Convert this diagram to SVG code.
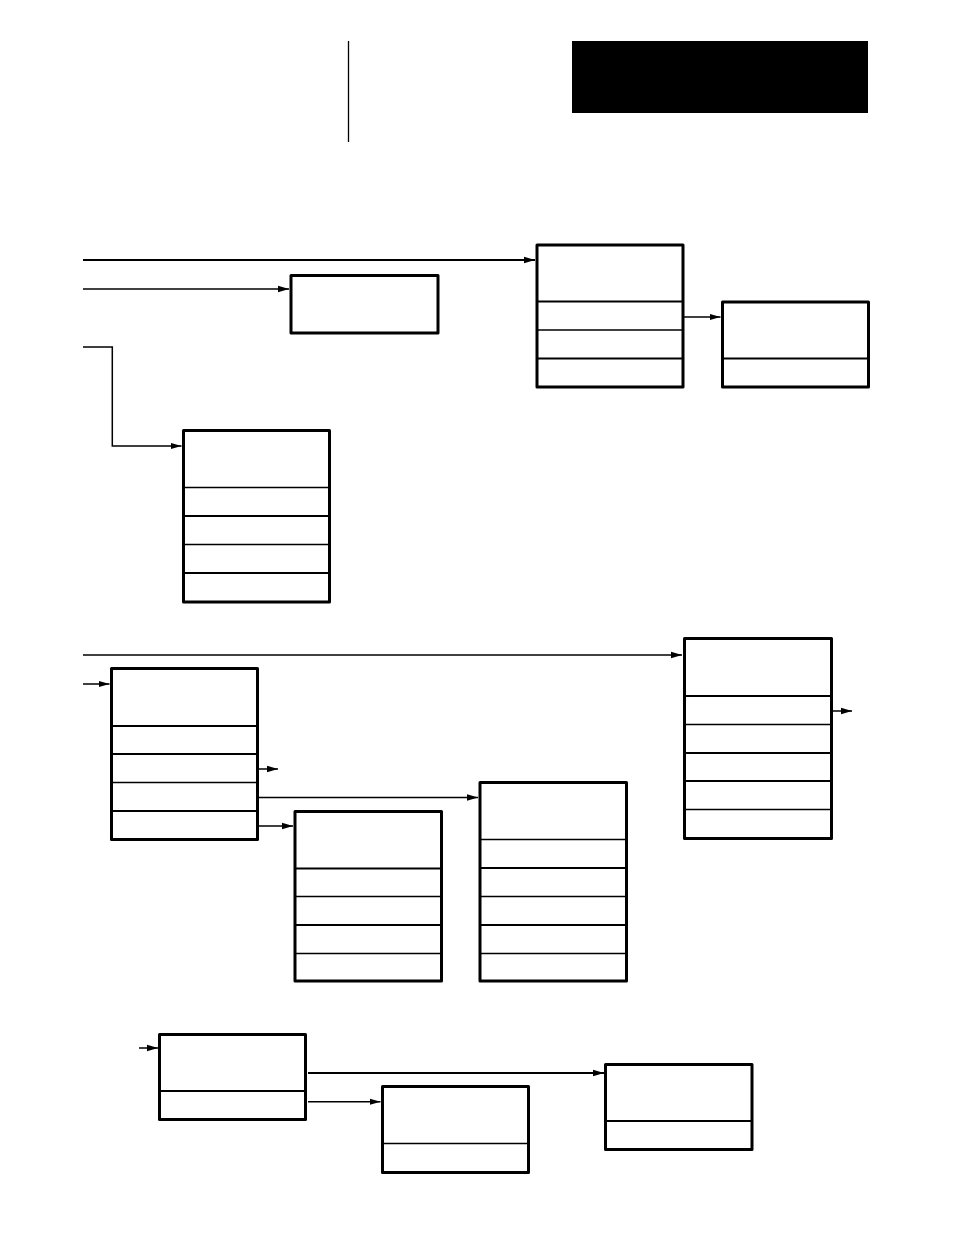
<svg xmlns="http://www.w3.org/2000/svg" width="954" height="1235" viewBox="0 0 954 1235">
<style>
.box{fill:#fff;stroke:#000;stroke-width:3;stroke-linejoin:round}
.dk{stroke:#000;stroke-width:2.2}
.dt{stroke:#000;stroke-width:1.3}
.c{fill:none;stroke:#000;stroke-width:1.5}
.c2{fill:none;stroke:#000;stroke-width:2.2}
</style>
<defs>
<marker id="ah" markerUnits="userSpaceOnUse" markerWidth="12" markerHeight="8" refX="11" refY="4" orient="auto">
<path d="M0,0.8 L11,4 L0,7.2 Z" fill="#000"/>
</marker>
</defs>
<rect width="954" height="1235" fill="#fff"/>
<g id="header">
<line x1="348.5" y1="41" x2="348.5" y2="142" stroke="#000" stroke-width="1.3"/>
<rect x="572" y="41" width="296" height="72" fill="#000"/>
</g>
<g id="connectors">
<line class="c2" x1="83" y1="260" x2="535" y2="260" marker-end="url(#ah)"/>
<line class="c" x1="83" y1="289" x2="289" y2="289" marker-end="url(#ah)"/>
<polyline class="c" points="83,347 112.3,347 112.3,446 181.5,446" marker-end="url(#ah)"/>
<line class="c" x1="684" y1="317" x2="720.5" y2="317" marker-end="url(#ah)"/>
<line class="c" x1="83" y1="655" x2="682" y2="655" marker-end="url(#ah)"/>
<line class="c" x1="83" y1="684" x2="109.5" y2="684" marker-end="url(#ah)"/>
<line class="c" x1="258" y1="769" x2="278" y2="769" marker-end="url(#ah)"/>
<line class="c" x1="258" y1="797.5" x2="478" y2="797.5" marker-end="url(#ah)"/>
<line class="c" x1="258" y1="826" x2="293" y2="826" marker-end="url(#ah)"/>
<line class="c" x1="832" y1="711" x2="852" y2="711" marker-end="url(#ah)"/>
<line class="c" x1="139" y1="1048" x2="158" y2="1048" marker-end="url(#ah)"/>
<line class="c2" x1="308" y1="1073" x2="604" y2="1073" marker-end="url(#ah)"/>
<line class="c" x1="308" y1="1101.7" x2="380.5" y2="1101.7" marker-end="url(#ah)"/>
</g>
<g id="nodeA">
<rect class="box" x="537" y="245" width="146" height="142"/>
<line class="dk" x1="537" y1="301.5" x2="683" y2="301.5"/>
<line class="dt" x1="537" y1="330" x2="683" y2="330"/>
<line class="dk" x1="537" y1="358.5" x2="683" y2="358.5"/>
</g>
<g id="nodeB">
<rect class="box" x="291" y="275.5" width="147" height="57.5"/>
</g>
<g id="nodeC">
<rect class="box" x="183.5" y="430.5" width="146" height="171.5"/>
<line class="dt" x1="183.5" y1="487.5" x2="329.5" y2="487.5"/>
<line class="dk" x1="183.5" y1="516" x2="329.5" y2="516"/>
<line class="dt" x1="183.5" y1="544.5" x2="329.5" y2="544.5"/>
<line class="dk" x1="183.5" y1="573" x2="329.5" y2="573"/>
</g>
<g id="nodeD">
<rect class="box" x="722.5" y="302" width="146" height="85"/>
<line class="dk" x1="722.5" y1="358.5" x2="868.5" y2="358.5"/>
</g>
<g id="nodeE">
<rect class="box" x="684.5" y="638.5" width="147" height="200"/>
<line class="dk" x1="684.5" y1="696" x2="831.5" y2="696"/>
<line class="dt" x1="684.5" y1="724.5" x2="831.5" y2="724.5"/>
<line class="dk" x1="684.5" y1="753" x2="831.5" y2="753"/>
<line class="dk" x1="684.5" y1="781" x2="831.5" y2="781"/>
<line class="dt" x1="684.5" y1="809.5" x2="831.5" y2="809.5"/>
</g>
<g id="nodeF">
<rect class="box" x="111.5" y="668.5" width="146" height="171"/>
<line class="dk" x1="111.5" y1="726" x2="257.5" y2="726"/>
<line class="dk" x1="111.5" y1="754" x2="257.5" y2="754"/>
<line class="dt" x1="111.5" y1="782.5" x2="257.5" y2="782.5"/>
<line class="dk" x1="111.5" y1="811" x2="257.5" y2="811"/>
</g>
<g id="nodeG">
<rect class="box" x="295" y="811.5" width="146.5" height="169.5"/>
<line class="dk" x1="295" y1="868.5" x2="441.5" y2="868.5"/>
<line class="dt" x1="295" y1="896.5" x2="441.5" y2="896.5"/>
<line class="dk" x1="295" y1="925" x2="441.5" y2="925"/>
<line class="dt" x1="295" y1="953.5" x2="441.5" y2="953.5"/>
</g>
<g id="nodeH">
<rect class="box" x="480" y="782.5" width="146.5" height="198.5"/>
<line class="dt" x1="480" y1="839.5" x2="626.5" y2="839.5"/>
<line class="dk" x1="480" y1="868" x2="626.5" y2="868"/>
<line class="dt" x1="480" y1="896.5" x2="626.5" y2="896.5"/>
<line class="dk" x1="480" y1="925" x2="626.5" y2="925"/>
<line class="dt" x1="480" y1="953.5" x2="626.5" y2="953.5"/>
</g>
<g id="nodeI">
<rect class="box" x="159.5" y="1034.5" width="146" height="85"/>
<line class="dk" x1="159.5" y1="1091" x2="305.5" y2="1091"/>
</g>
<g id="nodeJ">
<rect class="box" x="382.5" y="1086.5" width="146" height="86"/>
<line class="dt" x1="382.5" y1="1143.5" x2="528.5" y2="1143.5"/>
</g>
<g id="nodeK">
<rect class="box" x="605.5" y="1064.5" width="146.5" height="85"/>
<line class="dk" x1="605.5" y1="1121" x2="752" y2="1121"/>
</g>
</svg>
